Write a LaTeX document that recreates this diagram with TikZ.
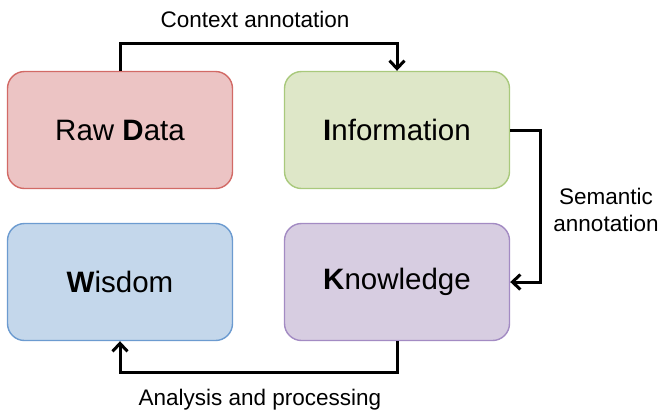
\documentclass[tikz,border=0pt]{standalone}
\usepackage{fontspec}
\setmainfont{Liberation Sans}
\usetikzlibrary{arrows.meta}
\definecolor{rawfill}{HTML}{ECC4C4}
\definecolor{rawline}{HTML}{D26A66}
\definecolor{infofill}{HTML}{DEE7C8}
\definecolor{infoline}{HTML}{A9C97C}
\definecolor{wisfill}{HTML}{C4D7EB}
\definecolor{wisline}{HTML}{6C9BD0}
\definecolor{knofill}{HTML}{D7CDE1}
\definecolor{knoline}{HTML}{A38BC3}
\tikzset{
  box/.style={draw, line width=1.4pt, rounded corners=17pt, minimum width=225pt, minimum height=117pt, inner sep=0pt,
    font=\fontsize{29.5}{35}\selectfont},
  conn/.style={draw, line width=3pt, -{Straight Barb[length=8pt,width=15pt,line width=3pt]}},
  lbl/.style={font=\fontsize{22.5}{27}\selectfont, inner sep=0pt, align=center}
}
\begin{document}
\begin{tikzpicture}[x=1pt,y=-1pt]
\useasboundingbox (0,0) rectangle (663,416);
\node[box, fill=rawfill, draw=rawline] (raw) at (120,130) {Raw \textbf{D}ata};
\node[box, fill=infofill, draw=infoline] (info) at (397,130) {\textbf{I}nformation};
\node[box, fill=wisfill, draw=wisline] (wis) at (120,282) {\textbf{W}isdom};
\node[box, fill=knofill, draw=knoline] (kno) at (397,282) {\textbf{K}nowledge};
\coordinate (c1) at (120,43);
\coordinate (c2) at (540,130);
\coordinate (c3) at (397,372);
\draw[conn] (raw.north) -- (c1) -| (info.north);
\draw[conn] (info.east) -- (c2) |- (kno.east);
\draw[conn] (kno.south) -- (c3) -| (wis.south);
\node[lbl] (lctx) at (255,19) {Context annotation};
\node[lbl] (lsem) at (606,210) {Semantic\\annotation};
\node[lbl] (lana) at (260,400) {Analysis and processing};
\end{tikzpicture}
\end{document}
